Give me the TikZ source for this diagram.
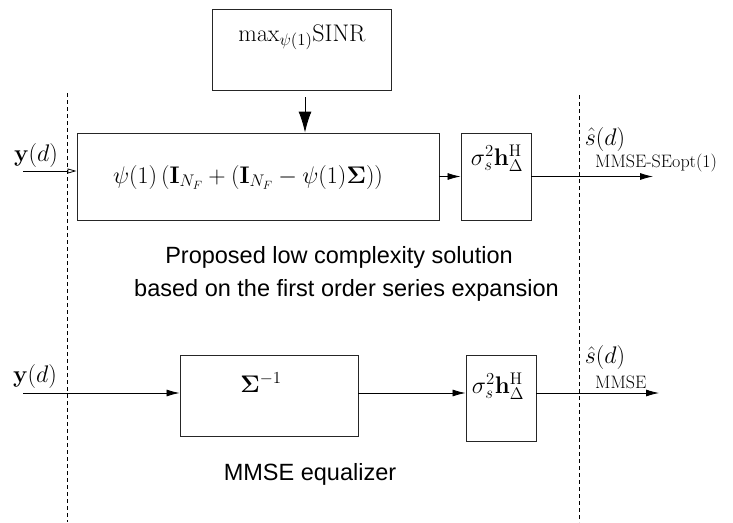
\documentclass[tikz,border=0pt]{standalone}
\usepackage{fix-cm}
\usepackage{amsmath}
\usepackage[no-math]{fontspec}
\newfontfamily\sansf{Liberation Sans}
\usetikzlibrary{arrows.meta}
\tikzset{
  blk/.style={draw=black!85, line width=0.9pt, inner sep=0pt, fill=none},
  mth/.style={inner sep=0pt, font=\fontsize{24}{28}\selectfont},
  sml/.style={inner sep=0pt, font=\fontsize{18}{21}\selectfont},
  captxt/.style={inner sep=0pt, font=\sansf\fontsize{23.5}{28}\selectfont},
  sigarr/.style={line width=0.8pt, -{Latex[length=13pt,width=7pt]}},
  bigarr/.style={line width=0.9pt, -{Latex[length=21pt,width=13pt]}},
  sepline/.style={line width=0.8pt, dash pattern=on 4pt off 3pt},
}
\begin{document}
\begin{tikzpicture}[x=1pt,y=-1pt]
\useasboundingbox (0,0) rectangle (733,522);
% boxes
\node[blk, minimum width=179pt, minimum height=81pt] (top) at (301.5,49.5) {};
\node[blk, minimum width=362pt, minimum height=87pt] (main) at (258,176.5) {};
\node[blk, minimum width=70pt, minimum height=87pt] (s1) at (496,176.5) {};
\node[blk, minimum width=178pt, minimum height=81pt] (inv) at (269,395.5) {};
\node[blk, minimum width=70pt, minimum height=86pt] (s2) at (501,398) {};
% box texts
\node[mth, anchor=base] (tmax) at (302,41) {$\mathrm{max}_{\psi(1)}\mathrm{SINR}$};
\node[mth, anchor=base] (tmain) at (248,183) {$\psi(1)\left(\mathbf{I}_{N_F}+(\mathbf{I}_{N_F}-\psi(1)\mathbf{\Sigma})\right)$};
\node[mth, anchor=base] (ts1) at (497,165) {$\sigma_s^2\mathbf{h}_{\Delta}^{\mathrm{H}}$};
\node[mth, anchor=base] (tinv) at (261,392) {$\mathbf{\Sigma}^{-1}$};
\node[mth, anchor=base] (ts2) at (498,393) {$\sigma_s^2\mathbf{h}_{\Delta}^{\mathrm{H}}$};
% signal labels
\node[mth, anchor=base] (y1) at (36,161) {$\mathbf{y}(d)$};
\node[mth, anchor=base] (y2) at (35,382) {$\mathbf{y}(d)$};
\node[mth] (sh1) at (605,139) {$\hat{s}(d)$};
\node[mth] (sh2) at (605,357) {$\hat{s}(d)$};
\node[sml, anchor=base west] (l1) at (595,167) {MMSE-SEopt(1)};
\node[sml, anchor=base west] (l2) at (595,388) {MMSE};
% captions
\node[captxt, anchor=base] (c1) at (339,263) {Proposed low complexity solution};
\node[captxt, anchor=base] (c2) at (346.5,296) {based on the first order series expansion};
\node[captxt, anchor=base] (c3) at (310,480) {MMSE equalizer};
% coordinates
\coordinate (a1) at (305,97);
\coordinate (in1) at (23,171);
\coordinate (out1) at (653,176.5);
\coordinate (in2) at (23,393);
\coordinate (out2) at (659,393);
\coordinate (dl1) at (67,93);
\coordinate (dl2) at (67,522);
\coordinate (dr1) at (579,95);
\coordinate (dr2) at (579,522);
% dashed separators
\draw[sepline] (dl1) -- (dl2);
\draw[sepline] (dr1) -- (dr2);
% connectors
\draw[bigarr] (a1) -- (a1 |- main.north);
\draw[line width=0.8pt, -{Triangle[open,length=9pt,width=5pt]}] (in1) -- (in1 -| main.west);
\draw[sigarr] (main.east) -- (s1.west);
\draw[sigarr] (s1.east) -- (out1);
\draw[sigarr] (in2) -- (in2 -| inv.west);
\draw[sigarr] (inv.east |- in2) -- (s2.west |- in2);
\draw[sigarr] (s2.east |- in2) -- (out2);
\end{tikzpicture}
\end{document}
